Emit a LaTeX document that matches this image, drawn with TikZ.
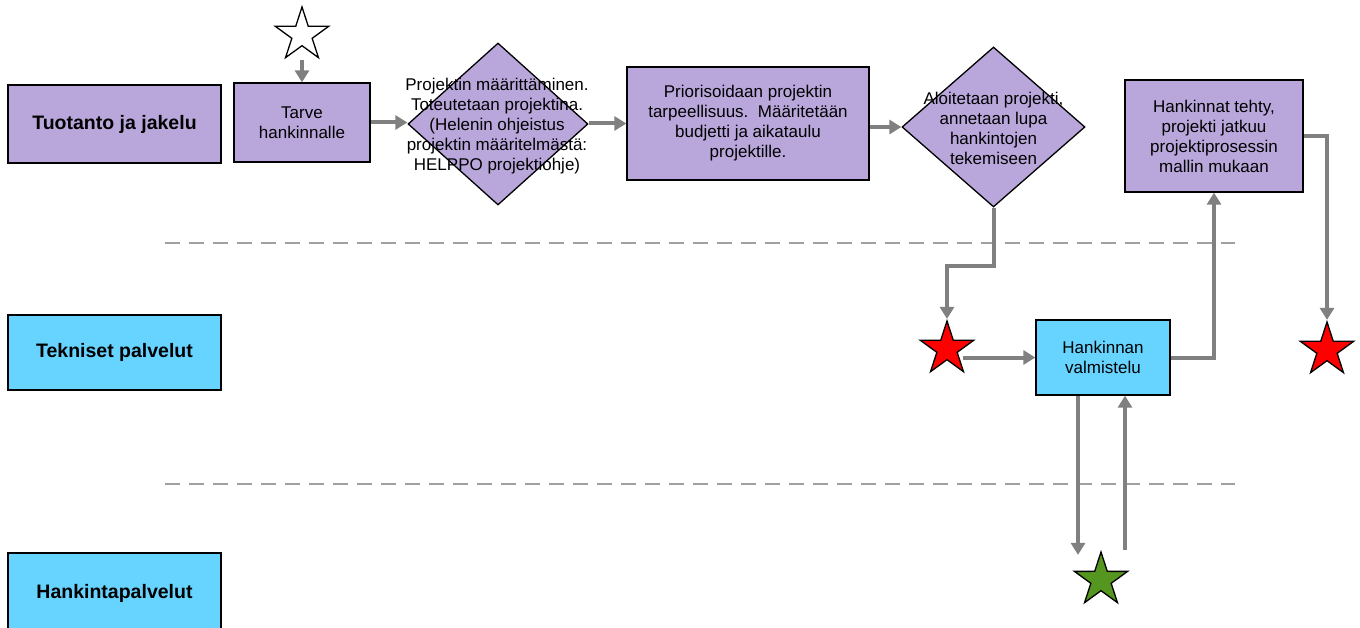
\documentclass[tikz,border=0pt]{standalone}
\usepackage{fontspec}
\setmainfont{Liberation Sans}
\usetikzlibrary{shapes.geometric,arrows.meta}
\definecolor{lav}{RGB}{185,167,220}
\definecolor{sky}{RGB}{102,212,255}
\definecolor{conn}{RGB}{128,128,128}
\definecolor{laneline}{RGB}{160,160,160}
\definecolor{redstar}{RGB}{255,0,0}
\definecolor{greenstar}{RGB}{84,150,32}
\begin{document}
\begin{tikzpicture}[x=1pt,y=-1pt,
  box/.style={draw=black,line width=1.3pt,rectangle,inner sep=2pt,align=center,
    font=\fontsize{17}{20}\selectfont,text=black},
  lane/.style={box,font=\fontsize{19.5}{23}\selectfont\bfseries,minimum width=213pt},
  decision/.style={draw=black,line width=1.3pt,diamond,fill=lav,inner sep=0pt},
  dtext/.style={align=center,font=\fontsize{17}{20}\selectfont,text=black},
  starmark/.style={draw=black,line width=1.3pt,star,star points=5,
    star point ratio=2.618,minimum size=56pt,inner sep=0pt},
  arr/.style={draw=conn,line width=4pt,-{Triangle[length=12pt,width=14pt]}},
  lanesep/.style={draw=laneline,line width=2pt,dash pattern=on 15pt off 9pt}
]
\useasboundingbox (0,0) rectangle (1360,628);
\clip (0,0) rectangle (1360,628);

% lane separators
\coordinate (sepA1) at (165,243);
\coordinate (sepA2) at (1235,243);
\coordinate (sepB1) at (165,484);
\coordinate (sepB2) at (1235,484);
\draw[lanesep] (sepA1) -- (sepA2);
\draw[lanesep] (sepB1) -- (sepB2);

% lane titles
\node[lane,fill=lav,minimum height=78pt] (lane1) at (114.5,124) {Tuotanto ja jakelu};
\node[lane,fill=sky,minimum height=75pt] (lane2) at (114.5,352.5) {Tekniset palvelut};
\node[lane,fill=sky,minimum height=80pt] (lane3) at (114.5,593) {Hankintapalvelut};

% process steps
\node[starmark,fill=white] (ws) at (302,35) {};
\node[box,fill=lav,minimum width=136pt,minimum height=79pt] (tarve) at (302,122.5)
  {Tarve\\hankinnalle};
\node[decision,minimum width=180pt,minimum height=162pt] (d1) at (498,124) {};
\node[dtext] (d1t) at (497,126) {Projektin määrittäminen.\\Toteutetaan projektina.\\
  (Helenin ohjeistus\\projektin määritelmästä:\\HELPPO projektiohje)};
\node[box,fill=lav,minimum width=242pt,minimum height=113pt] (prio) at (748,123.5)
  {Priorisoidaan projektin\\tarpeellisuus.\ \ Määritetään\\budjetti ja aikataulu\\projektille.};
\node[decision,minimum width=183pt,minimum height=160pt] (d2) at (993.5,127) {};
\node[dtext] (d2t) at (993.5,128) {Aloitetaan projekti,\\annetaan lupa\\hankintojen\\tekemiseen};
\node[starmark,fill=redstar] (s1) at (947,349) {};
\node[box,fill=sky,minimum width=134pt,minimum height=75pt] (hv) at (1103,357.5)
  {Hankinnan\\valmistelu};
\node[box,fill=lav,minimum width=178pt,minimum height=112pt] (hd) at (1214,136)
  {Hankinnat tehty,\\projekti jatkuu\\projektiprosessin\\mallin mukaan};
\node[starmark,fill=redstar] (s2) at (1327,350) {};
\node[starmark,fill=greenstar] (gs) at (1101,580) {};

% connectors
\draw[arr] ([yshift=-25pt]ws.center) -- (tarve.north);
\draw[arr] (tarve.east) -- (tarve.east -| d1.west);
\draw[arr] (d1.east |- prio.west) -- (prio.west);
\draw[arr] (prio.east |- d2.west) -- (d2.west);
\draw[arr] (d2.south) -- ++(0,58) -| (s1.north);
\draw[arr] (s1.east |- hv.west) -- (hv.west);
\draw[arr] (hv.east) -| (hd.south);
\draw[arr] (hd.east) -| (s2.north);
\draw[arr] ([xshift=-25pt]hv.south) -- ([xshift=-23pt,yshift=-5pt]gs.north);
\draw[arr] ([xshift=24pt]gs.north) -- ([xshift=22pt]hv.south);
\end{tikzpicture}
\end{document}
